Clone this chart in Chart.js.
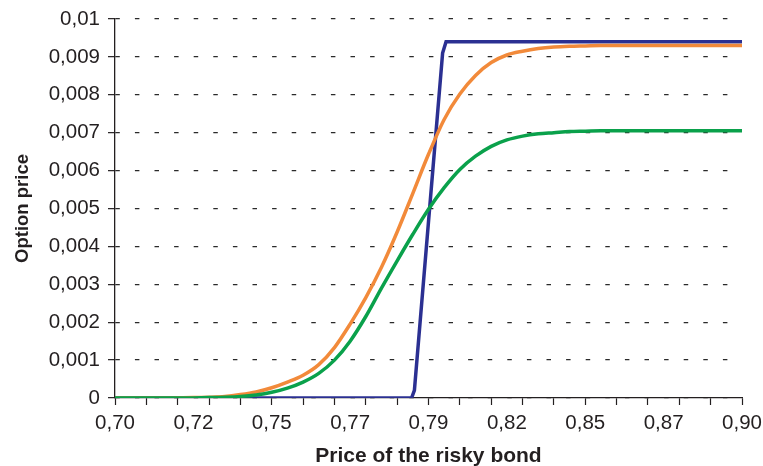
<!DOCTYPE html>
<html>
<head>
<meta charset="utf-8">
<script src="https://cdn.jsdelivr.net/npm/chart.js@4/dist/chart.umd.min.js"></script>
<style>
  html, body { margin: 0; padding: 0; background: #fff; }
  #wrap { width: 763px; height: 466px; }
</style>
</head>
<body>
<div id="wrap"><canvas id="chart"></canvas></div>
<script>
/* ---------- Data ---------- */
const bondPrice = [
  0.700, 0.705, 0.710, 0.715, 0.720, 0.725, 0.730, 0.735, 0.740, 0.745,
  0.750, 0.755, 0.760, 0.765, 0.770, 0.775, 0.780, 0.785, 0.790, 0.795,
  0.800, 0.805, 0.810, 0.815, 0.820, 0.825, 0.830, 0.835, 0.840, 0.845,
  0.850, 0.855, 0.860, 0.865, 0.870, 0.875, 0.880, 0.885, 0.890, 0.895, 0.900
];
const orangeSeries = [
  0, 0, 0, 0, 0.000005, 0.00001, 0.00002, 0.00004, 0.00009, 0.00016,
  0.00027, 0.00042, 0.00060, 0.00088, 0.00133, 0.00195, 0.00265, 0.00345, 0.00438, 0.00540,
  0.00643, 0.00735, 0.00802, 0.00851, 0.00885, 0.00905, 0.00915, 0.00922, 0.00926, 0.00928,
  0.00929, 0.00930, 0.00930, 0.00930, 0.00930, 0.00930, 0.00930, 0.00930, 0.00930, 0.00930, 0.00930
];
const greenSeries = [
  0, 0, 0, 0, 0, 0.000003, 0.00001, 0.00002, 0.00004, 0.00008,
  0.00015, 0.00026, 0.00042, 0.00065, 0.00100, 0.00150, 0.00215, 0.00290, 0.00362, 0.00432,
  0.00498, 0.00555, 0.00603, 0.00638, 0.00664, 0.00681, 0.00691, 0.00697, 0.00700, 0.00703,
  0.00704, 0.00705, 0.00705, 0.00705, 0.00705, 0.00705, 0.00705, 0.00705, 0.00705, 0.00705, 0.00705
];
// blue (digital-like payoff) only needs its corner points
const blueX = [0.700, 0.7946, 0.7955, 0.8045, 0.8056, 0.900];
const blueY = [0, 0, 0.0002, 0.0091, 0.0094, 0.0094];

const xTickValues = [0.700, 0.725, 0.750, 0.775, 0.800, 0.825, 0.850, 0.875, 0.900];
const xTickLabels = ['0,70', '0,72', '0,75', '0,77', '0,79', '0,82', '0,85', '0,87', '0,90'];
const yTickLabels = ['0', '0,001', '0,002', '0,003', '0,004', '0,005', '0,006', '0,007', '0,008', '0,009', '0,01'];

/* ---------- Helpers ---------- */
const toPoints = (xs, ys) => xs.map((x, i) => ({ x: x, y: ys[i] }));
const isMinorTick = v => Math.abs(v * 100 - Math.round(v * 100)) < 1e-6;
const labelFor = v => {
  const k = xTickValues.findIndex(t => Math.abs(t - v) < 1e-6);
  return k >= 0 ? xTickLabels[k] : '';
};

const FONT = "'Liberation Sans', Arial, Helvetica, sans-serif";
const INK = '#231f20';

new Chart(document.getElementById('chart'), {
  type: 'line',
  data: {
    datasets: [{
      label: 'green',
      data: toPoints(bondPrice, greenSeries),
      borderColor: '#0aa14b',
      borderWidth: 3.5,
      cubicInterpolationMode: 'monotone',
      pointRadius: 0
    }, {
      label: 'orange',
      data: toPoints(bondPrice, orangeSeries),
      borderColor: '#f28a3a',
      borderWidth: 3.5,
      cubicInterpolationMode: 'monotone',
      pointRadius: 0
    }, {
      label: 'blue',
      data: toPoints(blueX, blueY),
      borderColor: '#2b3092',
      borderWidth: 3.5,
      tension: 0,
      pointRadius: 0
    }]
  },
  options: {
    responsive: true, maintainAspectRatio: false,
    animation: false,
    layout: { padding: { top: 19, right: 21, left: 0, bottom: 0 } },
    plugins: { legend: { display: false }, tooltip: { enabled: false } },
    scales: {
      x: {
        type: 'linear',
        min: 0.70, max: 0.90,
        afterFit: s => { s.height = 68; s.paddingLeft = 0; s.paddingRight = 0; },
        afterBuildTicks: s => {
          const vals = [];
          for (let i = 0; i <= 20; i++) vals.push(+(0.70 + i * 0.01).toFixed(3));
          xTickValues.forEach(v => { if (!vals.some(u => Math.abs(u - v) < 1e-6)) vals.push(v); });
          vals.sort((a, b) => a - b);
          s.ticks = vals.map(v => ({ value: v }));
        },
        ticks: {
          autoSkip: false, maxRotation: 0, padding: 6,
          color: INK,
          font: { family: FONT, size: 20.5 },
          callback: v => labelFor(v)
        },
        grid: {
          drawOnChartArea: false,
          tickLength: 7,
          tickWidth: 1.2,
          tickColor: ctx => (ctx.tick && isMinorTick(ctx.tick.value)) ? INK : 'rgba(0,0,0,0)'
        },
        border: { color: INK, width: 1.3 },
        title: {
          display: true, text: 'Price of the risky bond',
          color: INK,
          font: { family: FONT, size: 21, weight: 'bold', lineHeight: 1 },
          padding: { top: 0, bottom: -1 }
        }
      },
      y: {
        min: 0, max: 0.01,
        afterFit: s => { s.width = 115; s.paddingTop = 0; s.paddingBottom = 0; },
        ticks: {
          stepSize: 0.001, padding: 8,
          color: INK,
          font: { family: FONT, size: 20.5 },
          callback: (v, i) => yTickLabels[i]
        },
        grid: {
          color: '#2a2a2a',
          lineWidth: 1.3,
          tickLength: 7,
          tickColor: INK,
          tickWidth: 1.2
        },
        border: { color: INK, width: 1.3, dash: [4.5, 15.1], dashOffset: 0 },
        title: {
          display: true, text: 'Option price',
          color: INK,
          font: { family: FONT, size: 18.5, weight: 'bold', lineHeight: 1 },
          padding: { top: 14, bottom: 0 }
        }
      }
    }
  }
});
</script>
</body>
</html>
